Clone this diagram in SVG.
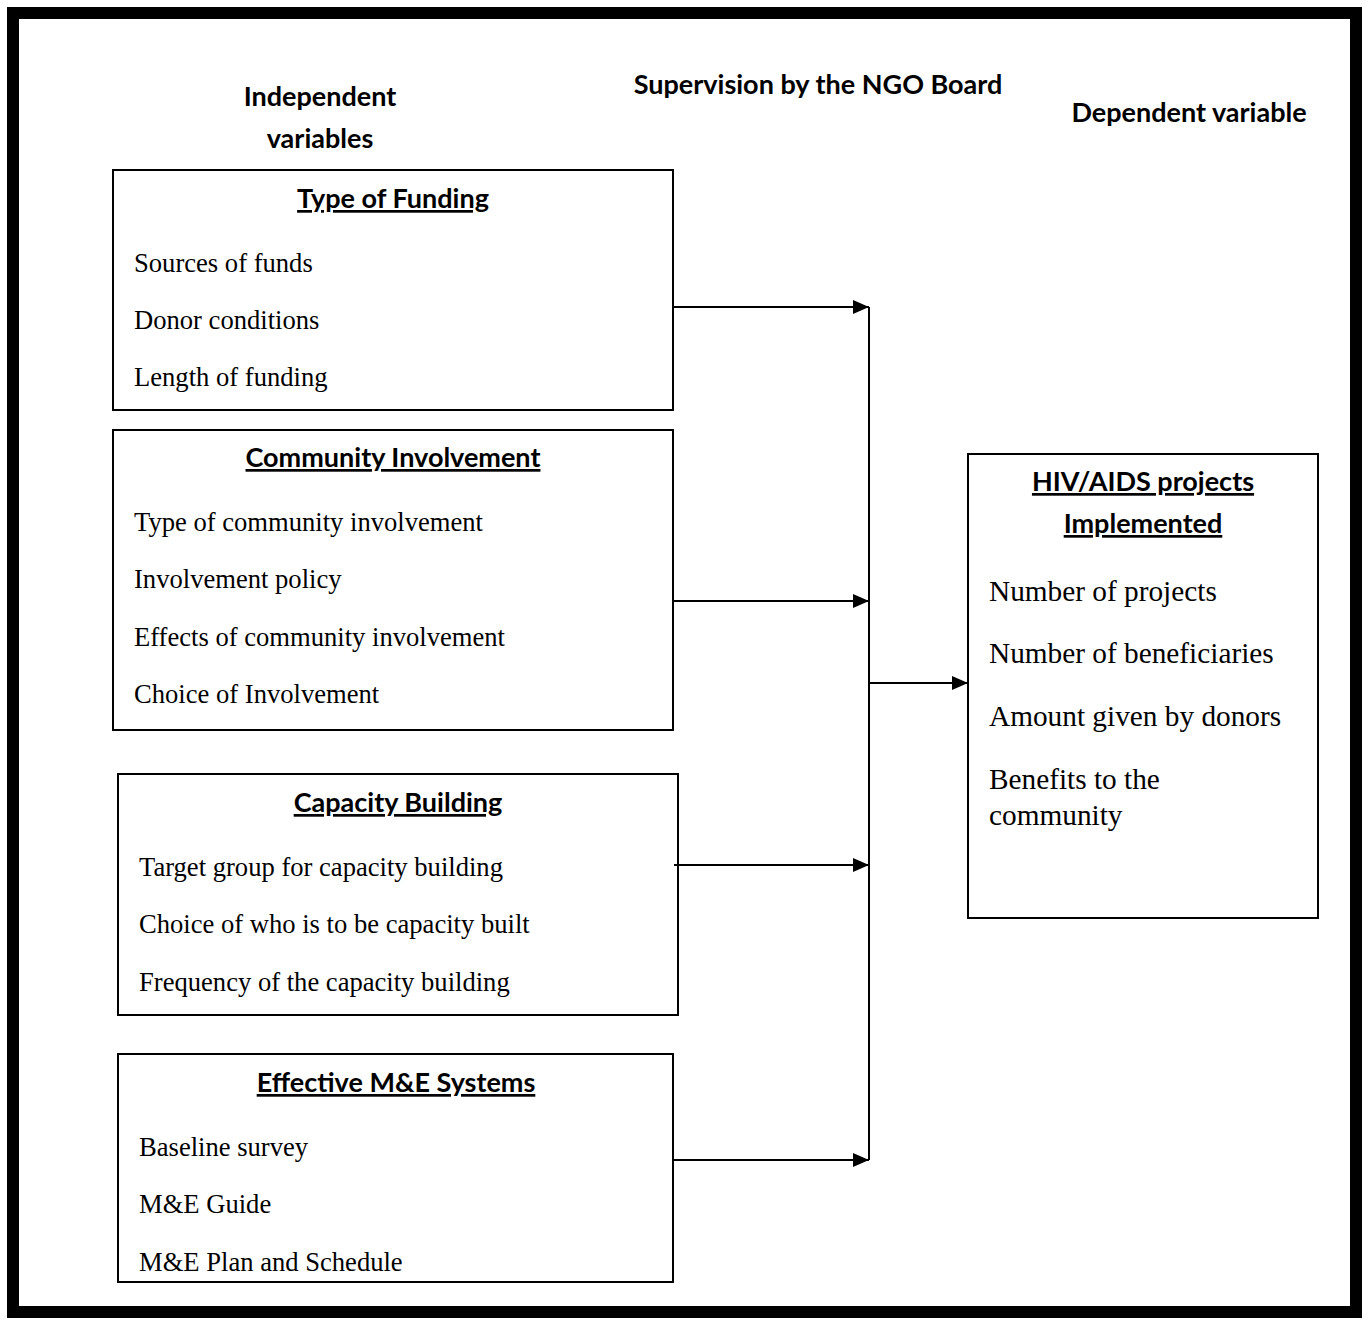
<svg xmlns="http://www.w3.org/2000/svg" width="1369" height="1321" viewBox="0 0 1369 1321">
<defs>
<marker id="arr" viewBox="0 0 16 14" refX="16" refY="7" markerWidth="16" markerHeight="14" markerUnits="userSpaceOnUse" orient="auto">
<path d="M0,0 L16,7 L0,14 Z" fill="#000"/>
</marker>
<style>
.box{fill:#fff;stroke:#000;stroke-width:2}
.hd{font-family:Lato,"Open Sans",sans-serif;font-weight:bold;font-size:27px;fill:#000;text-anchor:middle}
.ul{text-decoration:underline}
.bd{font-family:"Liberation Serif",serif;font-size:26.6px;fill:#000}
.bd2{font-family:"Liberation Serif",serif;font-size:29.3px;fill:#000}
.cn{fill:none;stroke:#000;stroke-width:2}
</style>
</defs>
<rect x="0" y="0" width="1369" height="1321" fill="#fff"/>
<rect x="13" y="13" width="1343" height="1299" fill="none" stroke="#000" stroke-width="12"/>
<text class="hd" x="320" y="106">Independent</text>
<text class="hd" x="320" y="148">variables</text>
<text class="hd" x="818" y="94">Supervision by the NGO Board</text>
<text class="hd" x="1189" y="122">Dependent variable</text>
<g id="node-funding">
<rect class="box" x="113" y="170" width="560" height="240"/>
<text class="hd ul" x="393" y="208">Type of Funding</text>
<text class="bd" x="134" y="272">Sources of funds</text>
<text class="bd" x="134" y="329">Donor conditions</text>
<text class="bd" x="134" y="386">Length of funding</text>
</g>
<g id="node-community">
<rect class="box" x="113" y="430" width="560" height="300"/>
<text class="hd ul" x="393" y="467">Community Involvement</text>
<text class="bd" x="134" y="531">Type of community involvement</text>
<text class="bd" x="134" y="588">Involvement policy</text>
<text class="bd" x="134" y="646">Effects of community involvement</text>
<text class="bd" x="134" y="703">Choice of Involvement</text>
</g>
<g id="node-capacity">
<rect class="box" x="118" y="774" width="560" height="241"/>
<text class="hd ul" x="398" y="812">Capacity Building</text>
<text class="bd" x="139" y="876">Target group for capacity building</text>
<text class="bd" x="139" y="933">Choice of who is to be capacity built</text>
<text class="bd" x="139" y="991">Frequency of the capacity building</text>
</g>
<g id="node-me">
<rect class="box" x="118" y="1054" width="555" height="228"/>
<text class="hd ul" x="396" y="1092">Effective M&amp;E Systems</text>
<text class="bd" x="139" y="1156">Baseline survey</text>
<text class="bd" x="139" y="1213">M&amp;E Guide</text>
<text class="bd" x="139" y="1271">M&amp;E Plan and Schedule</text>
</g>
<g id="node-hiv">
<rect class="box" x="968" y="454" width="350" height="464"/>
<text class="hd ul" x="1143" y="491">HIV/AIDS projects</text>
<text class="hd ul" x="1143" y="533">Implemented</text>
<text class="bd2" x="989" y="601">Number of projects</text>
<text class="bd2" x="989" y="663">Number of beneficiaries</text>
<text class="bd2" x="989" y="726">Amount given by donors</text>
<text class="bd2" x="989" y="789">Benefits to the</text>
<text class="bd2" x="989" y="825">community</text>
</g>
<g id="connectors">
<line class="cn" x1="869" y1="307" x2="869" y2="1160"/>
<line class="cn" x1="673" y1="307" x2="869" y2="307" marker-end="url(#arr)"/>
<line class="cn" x1="673" y1="601" x2="869" y2="601" marker-end="url(#arr)"/>
<line class="cn" x1="674" y1="865" x2="869" y2="865" marker-end="url(#arr)"/>
<line class="cn" x1="673" y1="1160" x2="869" y2="1160" marker-end="url(#arr)"/>
<line class="cn" x1="869" y1="683" x2="968" y2="683" marker-end="url(#arr)"/>
</g>
</svg>
